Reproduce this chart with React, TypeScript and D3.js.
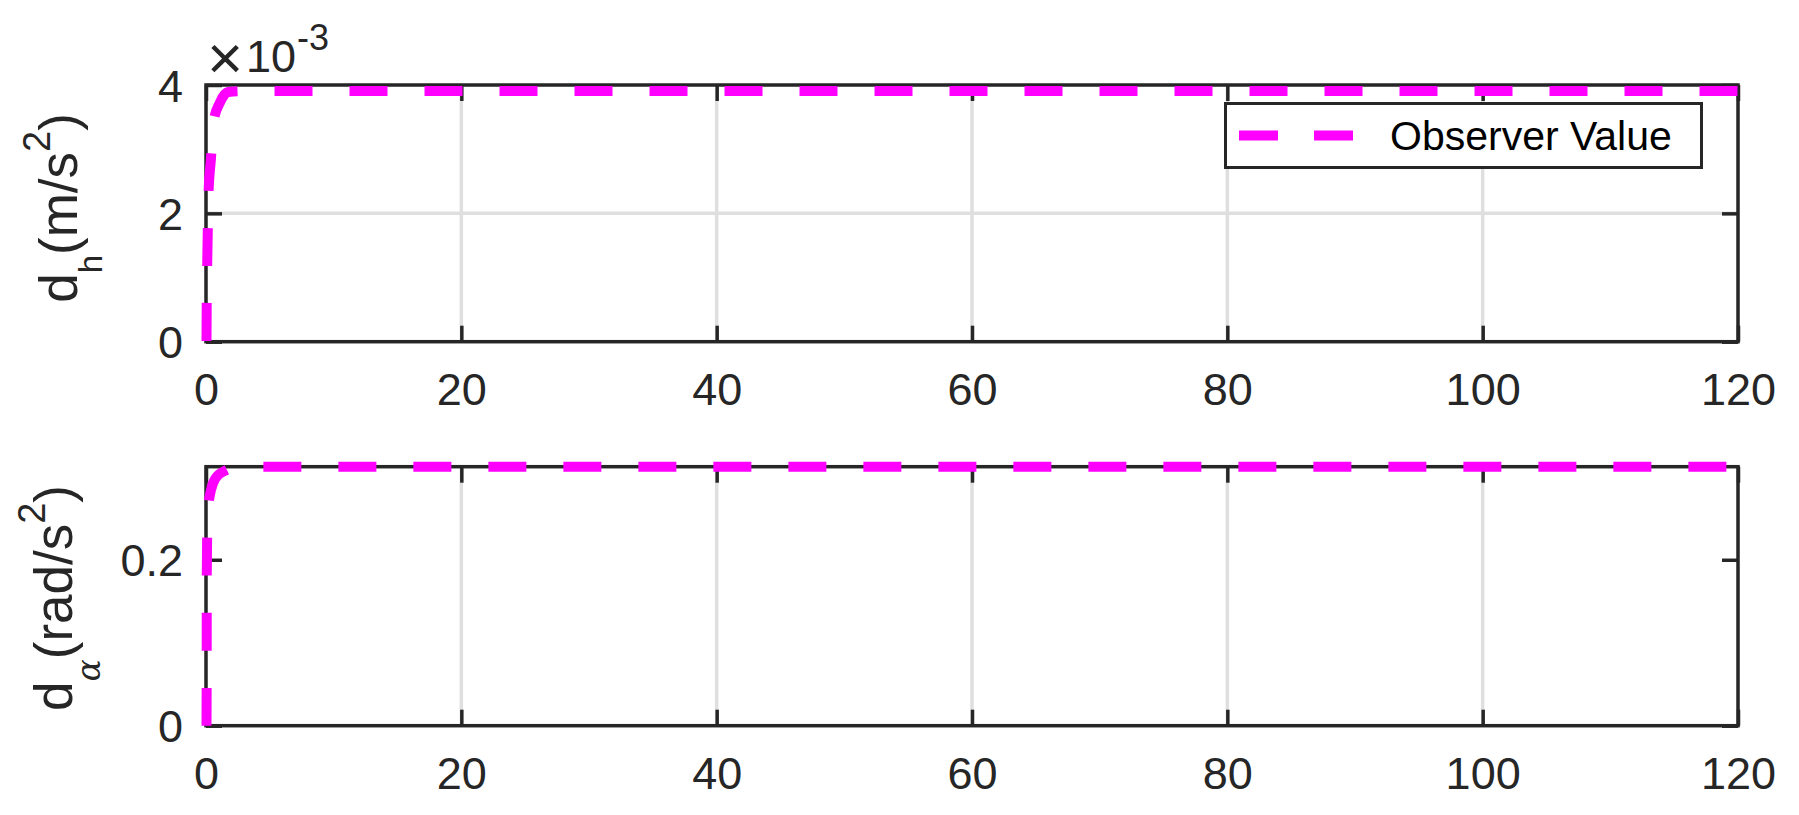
import React, { useEffect, useRef } from 'react';
import * as d3 from 'd3';

// time axis (s)
const xTicks = [0, 20, 40, 60, 80, 100, 120];

// observer estimate of d_h (m/s^2)
const timeDh = [0.04, 0.055, 0.09, 0.14, 0.2, 0.39, 0.57, 1.1, 1.73, 2.66, 5, 120];
const valueDh = [0.00001, 0.00057, 0.00116, 0.00174, 0.00232, 0.00286, 0.00341, 0.00373, 0.00389, 0.003905, 0.003905, 0.003905];

// observer estimate of d_alpha (rad/s^2)
const timeDa = [0.04, 0.055, 0.06, 0.09, 0.2, 0.39, 0.78, 1.57, 2.66, 5, 120];
const valueDa = [0, 0.091, 0.182, 0.228, 0.266, 0.284, 0.299, 0.308, 0.3122, 0.3122, 0.3122];

const yTicksDh = [0, 0.002, 0.004];
const yTickLabelsDh = ['0', '2', '4'];
const yTicksDa = [0, 0.2];
const yTickLabelsDa = ['0', '0.2'];

const legendLabel = 'Observer Value';

const FONT = "'Liberation Sans', Arial, Helvetica, sans-serif";
const INK = '#262626';
const MAGENTA = '#ff00ff';

export default function App() {
    const ref = useRef<SVGSVGElement>(null);

    useEffect(() => {
        const svg = d3.select(ref.current);
        svg.selectAll('*').remove();

        const x = d3.scaleLinear().domain([0, 120]).range([206, 1738]);
        const line = d3.line<number>().curve(d3.curveMonotoneX);

        const drawPanel = (cfg: any) => {
            const y = d3.scaleLinear().domain(cfg.yDomain).range([cfg.bottom, cfg.top]);
            const h = cfg.bottom - cfg.top;
            const g = svg.append('g');

            // grid
            g.append('g')
                .selectAll('line.gx')
                .data(xTicks.slice(1, -1))
                .enter().append('line')
                .attr('x1', (d) => x(d)).attr('x2', (d) => x(d))
                .attr('y1', cfg.top).attr('y2', cfg.bottom)
                .attr('stroke', '#dfdfdf').attr('stroke-width', 3.5);
            g.append('g')
                .selectAll('line.gy')
                .data(cfg.yTicks.slice(1, -1))
                .enter().append('line')
                .attr('x1', 206).attr('x2', 1738)
                .attr('y1', (d: number) => y(d)).attr('y2', (d: number) => y(d))
                .attr('stroke', '#dfdfdf').attr('stroke-width', 3.5);

            // axes (ticks point inward)
            const xb = g.append('g')
                .attr('transform', 'translate(0,' + cfg.bottom + ')')
                .call(d3.axisBottom(x).tickValues(xTicks).tickSizeInner(-16).tickSizeOuter(0).tickPadding(31).tickFormat(d3.format('d')));
            const xt = g.append('g')
                .attr('transform', 'translate(0,' + cfg.top + ')')
                .call(d3.axisTop(x).tickValues(xTicks).tickSizeInner(-16).tickSizeOuter(0).tickFormat(() => ''));
            const yl = g.append('g')
                .attr('transform', 'translate(206,0)')
                .call(d3.axisLeft(y).tickValues(cfg.yTicks).tickSizeInner(-16).tickSizeOuter(0).tickPadding(23)
                    .tickFormat((d, i) => cfg.yLabels[i]));
            const yr = g.append('g')
                .attr('transform', 'translate(1738,0)')
                .call(d3.axisRight(y).tickValues(cfg.yTicks).tickSizeInner(-16).tickSizeOuter(0).tickFormat(() => ''));

            [xb, xt, yl, yr].forEach((a) => {
                a.select('.domain').remove();
                a.selectAll('line').attr('stroke', INK).attr('stroke-width', 3.5);
                a.selectAll('text').attr('fill', INK).attr('font-size', 45).attr('font-family', FONT);
            });
            yl.selectAll('text').attr('dy', '0.36em');

            g.append('rect')
                .attr('x', 206).attr('y', cfg.top)
                .attr('width', 1738 - 206).attr('height', h)
                .attr('fill', 'none').attr('stroke', INK).attr('stroke-width', 3.5);

            // data line
            const pts = cfg.t.map((t: number, i: number) => [x(t), y(cfg.v[i])]);
            g.append('path')
                .attr('d', line(pts))
                .attr('fill', 'none')
                .attr('stroke', MAGENTA)
                .attr('stroke-width', 10)
                .attr('stroke-dasharray', '38,37');

            // y label
            const lab = g.append('text')
                .attr('transform', 'translate(' + cfg.labelX + ',' + cfg.labelY + ') rotate(-90)')
                .attr('text-anchor', 'middle')
                .attr('font-family', FONT)
                .attr('font-size', 53)
                .attr('fill', INK);
            lab.append('tspan').text('d');
            const sub = lab.append('tspan').attr('dy', cfg.subShift).attr('font-size', 33).text(cfg.sub);
            if (cfg.subItalic) sub.attr('font-family', "'DejaVu Serif', serif").attr('font-style', 'italic');
            lab.append('tspan').attr('dy', -cfg.subShift).text('(' + cfg.unit);
            lab.append('tspan').attr('dy', -27).attr('font-size', 38).text('2');
            lab.append('tspan').attr('dy', 27).text(')');

            return y;
        };

        drawPanel({
            top: 85, bottom: 341.7, yDomain: [0, 0.004],
            yTicks: yTicksDh, yLabels: yTickLabelsDh,
            t: timeDh, v: valueDh,
            labelX: 76.7, labelY: 208, sub: 'h', subShift: 25, subItalic: false, unit: 'm/s'
        });
        drawPanel({
            top: 466.7, bottom: 725.7, yDomain: [0, 0.3122],
            yTicks: yTicksDa, yLabels: yTickLabelsDa,
            t: timeDa, v: valueDa,
            labelX: 71.7, labelY: 598, sub: '\u03b1', subShift: 28, subItalic: true, unit: 'rad/s'
        });

        // exponent for the top panel
        const ex = svg.append('text')
            .attr('font-family', FONT).attr('fill', INK).attr('font-size', 45);
        ex.append('tspan').attr('x', 225).attr('y', 79).attr('text-anchor', 'middle').attr('font-size', 62).text('\u00d7');
        ex.append('tspan').attr('x', 246).attr('y', 71.7).text('10');
        ex.append('tspan').attr('x', 297).attr('y', 50).attr('font-size', 36).text('-3');

        // legend
        const lg = svg.append('g');
        lg.append('rect')
            .attr('x', 1225.5).attr('y', 103.5).attr('width', 476).attr('height', 64)
            .attr('fill', 'white').attr('stroke', INK).attr('stroke-width', 3);
        lg.append('line')
            .attr('x1', 1239).attr('x2', 1353).attr('y1', 135.5).attr('y2', 135.5)
            .attr('stroke', MAGENTA).attr('stroke-width', 10).attr('stroke-dasharray', '39,36');
        lg.append('text')
            .attr('x', 1390).attr('y', 150)
            .attr('font-family', FONT).attr('font-size', 41).attr('fill', '#000')
            .text(legendLabel);
    }, []);

    return (
        <svg ref={ref} width={1799} height={815}
            style={{ position: 'absolute', left: 0, top: 0, background: '#fff' }} />
    );
}
